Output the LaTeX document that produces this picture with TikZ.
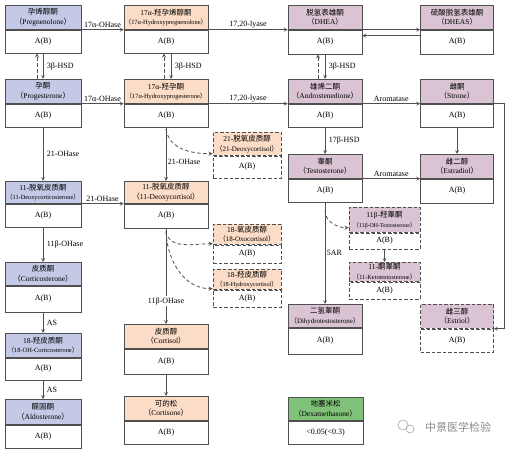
\documentclass[tikz,border=0pt]{standalone}
\usepackage{fontspec}
\setmainfont{Liberation Serif}
\newfontfamily\cjk{Noto Sans CJK SC}

\definecolor{hblue}{RGB}{196,202,230}
\definecolor{hpeach}{RGB}{251,220,198}
\definecolor{hmauve}{RGB}{218,196,212}
\definecolor{hgreen}{RGB}{128,194,122}
\definecolor{edge}{RGB}{80,80,80}

\newcommand{\cn}[1]{{\cjk #1}}
\newcommand{\en}[2][7.5]{{\fontsize{#1}{9.5}\selectfont\cn{（}#2\cn{）}}}
% name, header fill, line, top centre, width, header height, body height, header, body
\newcommand{\hormone}[9]{%
  \node[head,fill=#2,#3,minimum width=#5,minimum height=#6] (#1h) at #4 {#8};
  \node[body,#3,minimum width=#5,minimum height=#7] (#1b) at (#1h.south) {#9};
}

\tikzset{
  head/.style={draw=edge,line width=.7pt,anchor=north,align=center,inner sep=0pt,
    font=\fontsize{7.5}{9.5}\selectfont},
  body/.style={draw=edge,line width=.7pt,anchor=north,inner sep=0pt,
    font=\fontsize{8}{10}\selectfont},
  sbox/.style={solid},
  dbox/.style={dash pattern=on 3.5pt off 2pt},
  arr/.style={-stealth,draw=edge,line width=.7pt},
  darr/.style={arr,line width=.8pt,dash pattern=on 3.5pt off 2.5pt},
  lab/.style={font=\fontsize{8}{10}\selectfont,inner sep=1.5pt},
}

\begin{document}
\begin{tikzpicture}[x=1pt,y=-1pt]
  \useasboundingbox (0,0) rectangle (509,449);
  % top row
  \hormone{preg}{hblue}{sbox}{(43,5)}{76}{24}{23}{\cn{孕烯醇酮}\\\en{Pregnenolone}}{A(B)}
  \hormone{hpreg}{hpeach}{sbox}{(166,5)}{84}{24}{23}{17α-\cn{羟孕烯醇酮}\\\en[6.4]{17α-Hydroxypregnenolone}}{A(B)}
  \hormone{dhea}{hmauve}{sbox}{(325,5)}{74}{24}{24}{\cn{脱氢表雄酮}\\\en{DHEA}}{A(B)}
  \hormone{dheas}{hmauve}{sbox}{(457,5)}{73}{24}{24}{\cn{硫酸脱氢表雄酮}\\\en{DHEAS}}{A(B)}
  % second row
  \hormone{prog}{hblue}{sbox}{(43,79)}{76}{24}{23}{\cn{孕酮}\\\en{Progesterone}}{A(B)}
  \hormone{hprog}{hpeach}{sbox}{(166,79)}{84}{24}{23}{17α-\cn{羟孕酮}\\\en[6.4]{17α-Hydroxyprogesterone}}{A(B)}
  \hormone{andro}{hmauve}{sbox}{(325,79)}{74}{24}{23}{\cn{雄烯二酮}\\\en{Androstenedione}}{A(B)}
  \hormone{estrone}{hmauve}{sbox}{(457,79)}{73}{24}{23}{\cn{雌酮}\\\en{Strone}}{A(B)}
  % third row
  \hormone{dc21}{hpeach}{dbox}{(247,132)}{68}{23}{22}{21-\cn{脱氧皮质醇}\\\en[7]{21-Deoxycortisol}}{A(B)}
  \hormone{testo}{hmauve}{sbox}{(325,154)}{74}{24}{23}{\cn{睾酮}\\\en{Testosterone}}{A(B)}
  \hormone{estradiol}{hmauve}{sbox}{(457,154)}{73}{24}{24}{\cn{雌二醇}\\\en{Estradiol}}{A(B)}
  \hormone{doc}{hblue}{sbox}{(43,181)}{76}{22}{23}{11-\cn{脱氧皮质酮}\\\en[6.3]{11-Deoxycorticosterone}}{A(B)}
  \hormone{dcortisol}{hpeach}{sbox}{(166,181)}{84}{22}{24}{11-\cn{脱氧皮质醇}\\\en{11-Deoxycortisol}}{A(B)}
  % side products
  \hormone{ohtesto}{hmauve}{dbox}{(384.5,207)}{71}{25}{16}{11β-\cn{羟睾酮}\\\en[5.9]{11β-OH-Testosterone}}{A(B)}
  \hormone{oxo18}{hpeach}{dbox}{(247,224)}{68}{20}{18}{18-\cn{氧皮质醇}\\\en[7]{18-Oxocortisol}}{A(B)}
  \hormone{keto}{hmauve}{dbox}{(384.5,262)}{71}{19}{17}{11-\cn{酮睾酮}\\\en[6.3]{11-Ketotestosterone}}{A(B)}
  \hormone{hc18}{hpeach}{dbox}{(247,269)}{68}{20}{17}{18-\cn{羟皮质醇}\\\en[6.2]{18-Hydroxycortisol}}{A(B)}
  % lower rows
  \hormone{cort}{hblue}{sbox}{(43,262)}{76}{23}{26}{\cn{皮质酮}\\\en{Corticosterone}}{A(B)}
  \hormone{dht}{hmauve}{sbox}{(325,304)}{74}{23}{26}{\cn{二氢睾酮}\\\en[6.9]{Dihydrotestosterone}}{A(B)}
  \hormone{estriol}{hmauve}{dbox}{(457,304)}{73}{24}{23}{\cn{雌三醇}\\\en{Estriol}}{A(B)}
  \hormone{cortisol}{hpeach}{sbox}{(166,324)}{84}{24}{25}{\cn{皮质醇}\\\en{Cortisol}}{A(B)}
  \hormone{ohcort}{hblue}{sbox}{(43,333)}{76}{24}{22}{18-\cn{羟皮质酮}\\\en[6.4]{18-OH-Corticosterone}}{A(B)}
  \hormone{cortisone}{hpeach}{sbox}{(166,396)}{84}{24}{23}{\cn{可的松}\\\en{Cortisone}}{A(B)}
  \hormone{dexa}{hgreen}{sbox}{(325.5,397)}{75}{23}{23}{\cn{地塞米松}\\\en{Dexamethasone}}{<0.05(<0.3)}
  \hormone{aldo}{hblue}{sbox}{(43,399)}{76}{25}{23}{\cn{醛固酮}\\\en{Aldosterone}}{A(B)}
  % top row arrows
  \draw[arr] (pregh.south east) -- node[lab,above]{17α-OHase} (hpregh.south west);
  \draw[arr] (hpregh.south east) -- node[lab,above]{17,20-lyase} (dheah.south west);
  \draw[arr] (dheah.south east) -- (dheash.south west);
  \draw[arr] ([yshift=-6pt]dheash.south west) -- ([yshift=-6pt]dheah.south east);
  % 3b-HSD
  \draw[arr] (pregb.south) -- node[lab,right,xshift=2pt]{3β-HSD} (progh.north);
  \draw[darr] ([xshift=-6pt]progh.north) -- ([xshift=-6pt]pregb.south);
  \draw[arr] ([xshift=5pt]hpregb.south) -- node[lab,right,xshift=2pt]{3β-HSD} ([xshift=5pt]hprogh.north);
  \draw[darr] ([xshift=-2pt]hprogh.north) -- ([xshift=-2pt]hpregb.south);
  \draw[arr] (dheab.south) -- node[lab,right,xshift=2pt]{3β-HSD} (androh.north);
  \draw[darr] ([xshift=-7pt]androh.north) -- ([xshift=-7pt]dheab.south);
  % second row arrows
  \draw[arr] (progh.south east) -- node[lab,above]{17α-OHase} (hprogh.south west);
  \draw[arr] (hprogh.south east) -- node[lab,above]{17,20-lyase} (androh.south west);
  \draw[arr] (androh.south east) -- node[lab,above]{Aromatase} (estroneh.south west);
  \draw[arr] (estroneh.south east) -- ([xshift=10pt]estroneh.south east) |- (estriolh.south east);
  \draw[arr] (estroneb.south) -- (estradiolh.north);
  % androgens
  \draw[arr] (androb.south) -- node[lab,right,xshift=2pt]{17β-HSD} (testoh.north);
  \draw[arr] (testoh.south east) -- node[lab,above]{Aromatase} (estradiolh.south west);
  \draw[arr] (testob.south) -- node[lab,right]{5AR} (dhth.north);
  \draw[darr] ([yshift=-8pt]testob.south) to[out=-90,in=180] ([yshift=5pt]ohtestoh.south west);
  \draw[arr] (ohtestob.south) -- (ketoh.north);
  % cortisol
  \draw[arr] (progb.south) -- node[lab,right,xshift=2pt]{21-OHase} (doch.north);
  \draw[arr] (doch.south east) -- node[lab,above]{21-OHase} (dcortisolh.south west);
  \draw[arr] (hprogb.south) -- node[lab,right,pos=.65]{21-OHase} (dcortisolh.north);
  \draw[darr] ([yshift=-2pt]hprogb.south) to[out=-80,in=180] ([yshift=2pt]dc21h.south west);
  \draw[arr] (dcortisolb.south) -- node[lab,fill=white,pos=.76]{11β-OHase} (cortisolh.north);
  \draw[darr] ([yshift=-3pt]dcortisolb.south) to[out=-80,in=180] ([yshift=1pt]oxo18h.south west);
  \draw[darr] ([yshift=-3pt]dcortisolb.south) to[out=-88,in=180] ([yshift=1pt]hc18h.south west);
  \draw[arr] (cortisolb.south) -- (cortisoneh.north);
  % aldosterone
  \draw[arr] (docb.south) -- node[lab,right,xshift=2pt]{11β-OHase} (corth.north);
  \draw[arr] (cortb.south) -- node[lab,right,xshift=2pt]{AS} (ohcorth.north);
  \draw[arr] (ohcortb.south) -- node[lab,right,xshift=2pt]{AS} (aldoh.north);
  % watermark
  \draw[black!35,line width=.6pt] (403,425) circle (5) (410,429) circle (4);
  \node[text=black!45,font=\cjk\fontsize{11}{13}\selectfont] (mark) at (458,427) {中景医学检验};
\end{tikzpicture}
\end{document}
